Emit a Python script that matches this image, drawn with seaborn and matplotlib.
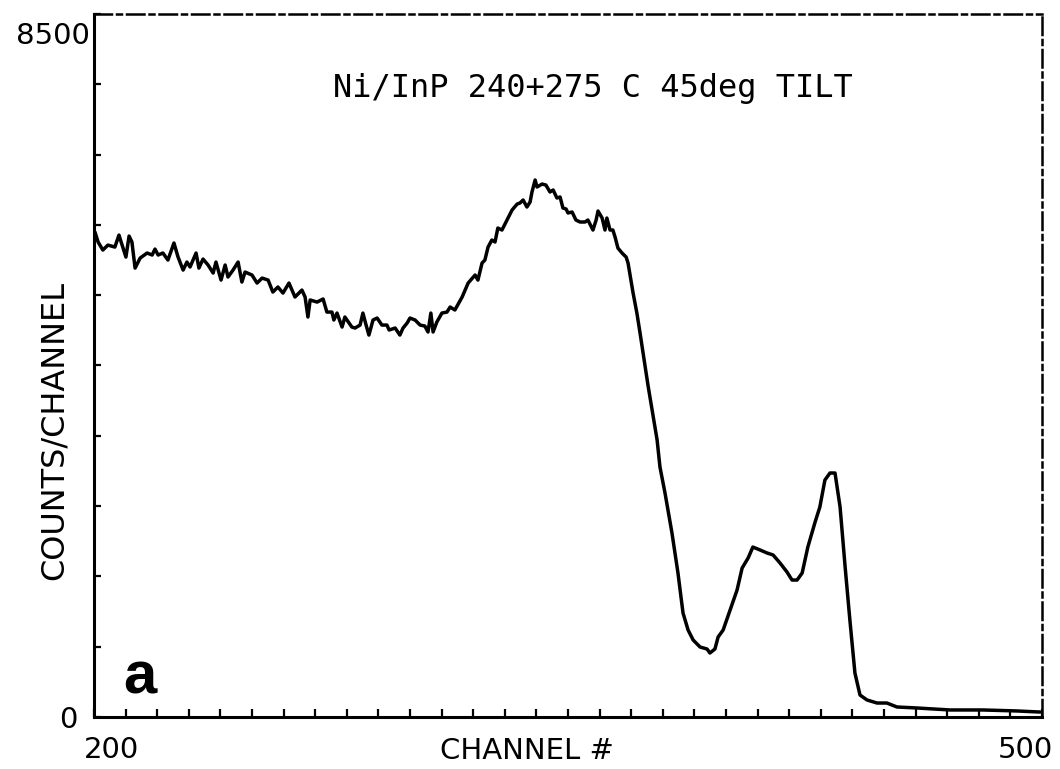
import numpy as np
import pandas as pd
import matplotlib
matplotlib.use("Agg")
import matplotlib.pyplot as plt
from matplotlib.transforms import ScaledTranslation
import seaborn as sns

# ---- data ----
channel = [
    200.3, 201.3, 202.8, 204.4, 206.6, 207.9, 208.9, 210.1, 211.1, 212.0,
    213.0, 214.6, 216.8, 218.4, 219.3, 220.3, 221.8, 223.4, 225.3, 226.6,
    228.2, 229.4, 230.4, 232.3, 233.2, 234.5, 236.1, 237.7, 238.6, 240.2,
    241.5, 242.4, 244.0, 245.6, 246.8, 247.8, 250.0, 251.6, 253.2, 255.1,
    256.6, 258.2, 259.8, 261.7, 263.6, 265.8, 266.8, 267.7, 268.4, 270.6,
    272.5, 273.7, 275.3, 275.9, 276.9, 278.5, 279.4, 281.6, 282.6, 284.2,
    285.1, 286.1, 287.0, 288.3, 289.6, 291.1, 292.7, 293.4, 295.3, 296.8,
    297.8, 299.1, 300.0, 301.6, 303.2, 304.7, 305.7, 306.6, 307.3, 308.5,
    310.1, 311.7, 312.7, 314.2, 316.5, 318.4, 320.6, 321.5, 322.8, 323.7,
    324.7, 325.9, 326.9, 327.8, 329.1, 330.7, 332.3, 333.9, 334.8, 335.8,
    337.0, 338.0, 338.6, 339.6, 340.2, 341.8, 343.0, 344.3, 345.3, 346.5,
    347.5, 348.4, 349.4, 350.0, 351.3, 352.5, 353.8, 355.4, 356.3, 357.9,
    358.9, 359.5, 360.8, 361.7, 362.3, 363.3, 364.2, 364.9, 365.8, 367.1,
    368.4, 369.0, 369.9, 370.6, 371.8, 372.8, 375.3, 378.2, 379.1, 380.7,
    382.9, 384.8, 386.4, 388.0, 389.6, 391.8, 394.0, 394.9, 396.5, 397.5,
    399.1, 401.3, 403.5, 405.1, 407.0, 408.5, 410.8, 413.0, 414.9, 417.1,
    419.3, 420.9, 422.5, 424.1, 425.9, 428.2, 429.7, 431.3, 432.9, 434.5,
    436.1, 437.7, 439.2, 440.8, 442.4, 444.6, 447.8, 450.9, 454.1, 460.4,
    470.9, 481.3, 492.1, 499.4,
]
counts = [
    5864, 5743, 5646, 5706, 5682, 5827, 5706, 5561, 5815, 5743,
    5428, 5549, 5610, 5586, 5658, 5586, 5610, 5525, 5731, 5561,
    5404, 5501, 5441, 5610, 5428, 5537, 5465, 5368, 5501, 5283,
    5465, 5320, 5404, 5501, 5259, 5380, 5344, 5247, 5307, 5283,
    5138, 5199, 5126, 5247, 5078, 5162, 5078, 4836, 5042, 5017,
    5054, 4896, 4896, 4800, 4884, 4715, 4836, 4715, 4703, 4739,
    4884, 4739, 4618, 4800, 4824, 4739, 4739, 4679, 4703, 4618,
    4703, 4764, 4824, 4800, 4739, 4727, 4655, 4884, 4655, 4776,
    4884, 4896, 4957, 4921, 5078, 5247, 5344, 5283, 5489, 5525,
    5682, 5767, 5743, 5912, 5888, 6009, 6130, 6202, 6215, 6251,
    6166, 6227, 6348, 6493, 6408, 6444, 6432, 6348, 6372, 6275,
    6287, 6154, 6142, 6094, 6106, 6009, 5985, 5985, 6009, 5888,
    6009, 6118, 6033, 5888, 6033, 5888, 5888, 5803, 5670, 5610,
    5561, 5489, 5283, 5126, 4884, 4643, 4014, 3349, 3023, 2708,
    2225, 1741, 1257, 1052, 931, 846, 822, 774, 822, 967,
    1052, 1294, 1535, 1801, 1922, 2055, 2019, 1983, 1959, 1862,
    1753, 1656, 1656, 1741, 2055, 2358, 2539, 2865, 2950, 2950,
    2539, 1814, 1173, 532, 266, 206, 169, 169, 121, 109,
    85, 85, 73, 60,
]
x_tick_values = list(range(200, 501, 10))
y_tick_values = list(range(0, 8501, 850))
x_tick_labels = {200: "200", 500: "500"}
y_tick_labels = {0: "0", 8500: "8500"}
title_text = "Ni/InP 240+275 C 45deg TILT"
x_label = "CHANNEL #"
y_label = "COUNTS/CHANNEL"
panel_label = "a"

df = pd.DataFrame({"channel": channel, "counts": counts})

sns.set_style("white")
plt.rcParams["font.family"] = ["DejaVu Sans"]
plt.rcParams["text.color"] = "black"
plt.rcParams["axes.labelcolor"] = "black"
plt.rcParams["xtick.color"] = "black"
plt.rcParams["ytick.color"] = "black"

fig = plt.figure(figsize=(10.6, 7.69), dpi=100)
ax = fig.add_axes([94 / 1060, 1 - 717 / 769, 948 / 1060, 703 / 769])

sns.lineplot(data=df, x="channel", y="counts", ax=ax, color="black",
             linewidth=2.5, estimator=None, sort=False)

ax.set_xlim(200, 500)
ax.set_ylim(0, 8500)

# spines
for s in ["left", "bottom"]:
    ax.spines[s].set_color("black")
    ax.spines[s].set_linewidth(2.2)
for s in ["top", "right"]:
    ax.spines[s].set_color("black")
    ax.spines[s].set_linewidth(1.8)
    ax.spines[s].set_linestyle((0, (7, 2, 2, 2)))

# ticks
ax.set_xticks(x_tick_values)
ax.set_xticklabels([x_tick_labels.get(v, "") for v in x_tick_values])
ax.set_yticks(y_tick_values)
ax.set_yticklabels([y_tick_labels.get(v, "") for v in y_tick_values])
ax.tick_params(axis="x", direction="in", length=6, width=1.6, colors="black",
               labelsize=21, pad=14, bottom=True, top=False)
ax.tick_params(axis="y", direction="in", length=5, width=1.6, colors="black",
               labelsize=21, pad=3, left=True, right=False)

dpi_t = fig.dpi_scale_trans
for lab in ax.get_xticklabels():
    t = lab.get_text()
    if t == "200":
        lab.set_transform(lab.get_transform() + ScaledTranslation(0.18, 0, dpi_t))
    elif t == "500":
        lab.set_transform(lab.get_transform() + ScaledTranslation(-0.17, 0, dpi_t))
for lab in ax.get_yticklabels():
    t = lab.get_text()
    if t == "8500":
        lab.set_transform(lab.get_transform() + ScaledTranslation(0, -0.19, dpi_t))
    elif t == "0":
        lab.set_transform(lab.get_transform() + ScaledTranslation(-0.12, 0, dpi_t))

ax.set_xlabel(x_label, fontsize=21, color="black")
ax.xaxis.set_label_coords((527 - 94) / 948, (717 - 737) / 703)
ax.set_ylabel(y_label, fontsize=23, color="black")
ax.yaxis.set_label_coords((70 - 94) / 948, (717 - 431) / 703)

ax.text((593 - 94) / 948, (717 - 89) / 703, title_text, transform=ax.transAxes,
        ha="center", va="center", fontsize=23, family="DejaVu Sans Mono",
        color="black")
ax.text((123 - 94) / 948, (717 - 693) / 703, panel_label, transform=ax.transAxes,
        ha="left", va="baseline", fontsize=43, fontweight="bold",
        family="Liberation Sans", color="black")

fig.savefig("out.png", dpi=100)
